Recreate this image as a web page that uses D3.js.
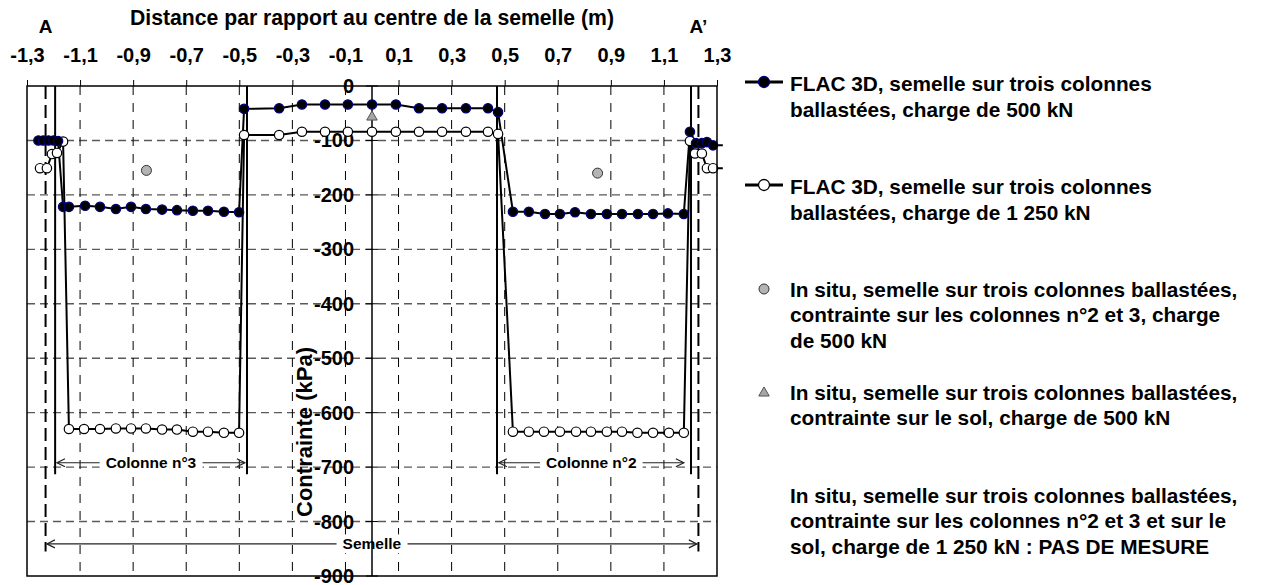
<!DOCTYPE html>
<html><head><meta charset="utf-8">
<script src="https://cdn.jsdelivr.net/npm/d3@7"></script>
<style>
body{margin:0;background:#fff;}
svg text{font-family:Arial,"Liberation Sans",sans-serif;font-weight:bold;fill:#000;}
</style></head><body>
<svg id="chart" width="1274" height="585"></svg>
<script>
// ---------------- data ----------------
const xTickValues = [-1.3,-1.1,-0.9,-0.7,-0.5,-0.3,-0.1,0.1,0.3,0.5,0.7,0.9,1.1,1.3];
const yTickValues = [0,-100,-200,-300,-400,-500,-600,-700,-800,-900];

// FLAC 3D, charge 500 kN
const flac500X = [-1.257,-1.239,-1.219,-1.200,-1.183,
  -1.164,-1.142,-1.081,-1.025,-0.965,-0.908,-0.852,-0.791,-0.735,-0.675,-0.618,-0.558,-0.501,
  -0.482,-0.350,-0.264,-0.177,-0.091,0,0.090,0.177,0.264,0.354,0.437,0.475,
  0.531,0.591,0.652,0.708,0.765,0.825,0.885,0.942,1.002,1.059,1.115,1.175,
  1.198,1.221,1.243,1.262,1.285,1.322];
const flac500Y = [-100,-100,-100,-100,-101,
  -222,-222,-220,-222,-226,-222,-226,-227,-228,-229,-229,-231,-232,
  -42,-41,-34,-34,-34,-34,-34,-41,-41,-41,-41,-48,
  -231,-231,-235,-235,-232,-235,-235,-235,-235,-235,-234,-235,
  -84,-105,-105,-103,-109,-109];

// FLAC 3D, charge 1 250 kN
const flac1250X = [-1.251,-1.225,-1.206,-1.187,-1.164,
  -1.142,-1.085,-1.025,-0.965,-0.908,-0.852,-0.791,-0.735,-0.675,-0.618,-0.558,-0.501,
  -0.482,-0.350,-0.264,-0.177,-0.091,0,0.090,0.177,0.264,0.354,0.437,0.475,
  0.531,0.591,0.648,0.708,0.769,0.825,0.885,0.942,1.000,1.059,1.119,1.175,
  1.198,1.217,1.243,1.262,1.285,1.322];
const flac1250Y = [-151,-151,-125,-123,-102,
  -630,-630,-630,-629,-629,-629,-631,-631,-635,-635,-637,-637,
  -90,-90,-84,-84,-84,-84,-84,-84,-84,-84,-84,-88,
  -635,-635,-635,-635,-635,-635,-635,-635,-637,-637,-637,-637,
  -101,-124,-124,-151,-151,-151];

// In situ measurements, 500 kN
const insituColX = [-0.85, 0.85];
const insituColY = [-155, -160];
const insituSolX = [0];
const insituSolY = [-57];

// geometry annotations (data coordinates)
const columnEdges = [-1.194, -0.471, 0.471, 1.202];
const columnEdgeBottom = -713;
const semelleEdges = [-1.23, 1.23];
const semelleEdgeBottom = -855;
const dimNames = ["Colonne n°3", "Colonne n°2", "Semelle"];
const dimFrom = [-1.187, 0.478, -1.225];
const dimTo = [-0.479, 1.175, 1.224];
const dimLevel = [-692, -692, -841];
const sectionNames = ["A", "A’"];
const sectionX = [-1.23, 1.23];

const xTitle = "Distance par rapport au centre de la semelle (m)";
const yTitle = "Contrainte (kPa)";

const legendLabels = [
  ["FLAC 3D, semelle sur trois colonnes", "ballastées, charge de 500 kN"],
  ["FLAC 3D, semelle sur trois colonnes", "ballastées, charge de 1 250 kN"],
  ["In situ, semelle sur trois colonnes ballastées,", "contrainte sur les colonnes n°2 et 3, charge", "de 500 kN"],
  ["In situ, semelle sur trois colonnes ballastées,", "contrainte sur le sol, charge de 500 kN"],
  ["In situ, semelle sur trois colonnes ballastées,", "contrainte sur les colonnes n°2 et 3 et sur le", "sol, charge de 1 250 kN : PAS DE MESURE"]
];
const legendKinds = ["flac500", "flac1250", "col", "sol", "none"];

// ---------------- drawing ----------------
const svg = d3.select("#chart");
const L = 27, R = 717, T = 86, B = 576;
const x = d3.scaleLinear().domain([-1.3, 1.3]).range([L, R]);
const y = d3.scaleLinear().domain([0, -900]).range([T, B]);
const fmtComma = d => d3.format(".1f")(d).replace("−", "-").replace(".", ",");

// horizontal gridlines
svg.append("g").selectAll("line").data(yTickValues.filter(v => v < 0 && v > -900)).join("line")
  .attr("x1", L).attr("x2", R).attr("y1", d => y(d)).attr("y2", d => y(d))
  .attr("stroke", "#5a5a5a").attr("stroke-width", 1.4).attr("stroke-dasharray", "8,5");
// vertical gridlines
svg.append("g").selectAll("line").data(xTickValues.filter(v => v > -1.3 && v < 1.3)).join("line")
  .attr("x1", d => x(d)).attr("x2", d => x(d)).attr("y1", T).attr("y2", B)
  .attr("stroke", "#000").attr("stroke-width", 1).attr("stroke-dasharray", "9,8");

// top axis
const xAxis = d3.axisTop(x).tickValues(xTickValues).tickSize(6).tickPadding(18).tickFormat(fmtComma);
const gx = svg.append("g").attr("transform", `translate(0,${T})`).call(xAxis);
gx.select(".domain").remove();
gx.selectAll(".tick line").attr("stroke", "#000");
gx.selectAll(".tick text").style("font-size", "20px").attr("fill", "#000");

// column edges (solid)
svg.append("g").selectAll("line").data(columnEdges).join("line")
  .attr("x1", d => x(d)).attr("x2", d => x(d)).attr("y1", y(0)).attr("y2", y(columnEdgeBottom))
  .attr("stroke", "#000").attr("stroke-width", 2);
// semelle edges (long dash)
svg.append("g").selectAll("line").data(semelleEdges).join("line")
  .attr("x1", d => x(d)).attr("x2", d => x(d)).attr("y1", y(0)).attr("y2", y(semelleEdgeBottom))
  .attr("stroke", "#000").attr("stroke-width", 2).attr("stroke-dasharray", "13,6");

// dimension arrows
const dims = dimNames.map((n, i) => ({n, a: dimFrom[i], b: dimTo[i], v: dimLevel[i]}));
const dg = svg.append("g");
dims.forEach(d => {
  const yy = y(d.v), xa = x(d.a), xb = x(d.b);
  dg.append("line").attr("x1", xa).attr("x2", xb).attr("y1", yy).attr("y2", yy)
    .attr("stroke", "#222").attr("stroke-width", 1.2);
  dg.append("path").attr("d", `M${xa+8},${yy-4}L${xa},${yy}L${xa+8},${yy+4}`)
    .attr("fill", "none").attr("stroke", "#222").attr("stroke-width", 1.2);
  dg.append("path").attr("d", `M${xb-8},${yy-4}L${xb},${yy}L${xb-8},${yy+4}`)
    .attr("fill", "none").attr("stroke", "#222").attr("stroke-width", 1.2);
  const cx = (xa + xb) / 2;
  const t = dg.append("text").attr("x", cx).attr("y", yy).attr("text-anchor", "middle")
    .attr("dominant-baseline", "central").style("font-size", "15.5px").text(d.n);
  const bb = t.node().getBBox();
  dg.insert("rect", () => t.node()).attr("x", bb.x - 6).attr("y", bb.y - 1)
    .attr("width", bb.width + 12).attr("height", bb.height + 2).attr("fill", "#fff");
});

// y axis at x = 0
svg.append("line").attr("x1", x(0)).attr("x2", x(0)).attr("y1", T).attr("y2", B)
  .attr("stroke", "#000").attr("stroke-width", 1.5);
const yg = svg.append("g");
yg.selectAll("line").data(yTickValues).join("line")
  .attr("x1", x(0) - 6).attr("x2", x(0) + 6).attr("y1", d => y(d)).attr("y2", d => y(d))
  .attr("stroke", "#000").attr("stroke-width", 1);
yg.selectAll("text").data(yTickValues).join("text")
  .attr("x", x(0) - 18).attr("y", d => y(d)).attr("text-anchor", "end")
  .attr("dominant-baseline", "central").style("font-size", "20px").text(d => String(d));

// series
const line = d3.line().x(d => x(d[0])).y(d => y(d[1]));
const s500 = flac500X.map((v, i) => [v, flac500Y[i]]);
const s1250 = flac1250X.map((v, i) => [v, flac1250Y[i]]);
svg.append("path").datum(s1250).attr("d", line).attr("fill", "none").attr("stroke", "#000").attr("stroke-width", 2);
svg.append("path").datum(s500).attr("d", line).attr("fill", "none").attr("stroke", "#000").attr("stroke-width", 2);
svg.append("g").selectAll("circle").data(s1250.filter(d => d[0] <= 1.3)).join("circle")
  .attr("cx", d => x(d[0])).attr("cy", d => y(d[1])).attr("r", 4.7)
  .attr("fill", "#fff").attr("stroke", "#000").attr("stroke-width", 1.2);
svg.append("g").selectAll("circle").data(s500.filter(d => d[0] <= 1.3)).join("circle")
  .attr("cx", d => x(d[0])).attr("cy", d => y(d[1])).attr("r", 4.7)
  .attr("fill", "#000").attr("stroke", "#000080").attr("stroke-width", 1.2);

// in situ
svg.append("g").selectAll("circle").data(insituColX.map((v, i) => [v, insituColY[i]])).join("circle")
  .attr("cx", d => x(d[0])).attr("cy", d => y(d[1])).attr("r", 5)
  .attr("fill", "#b4b4b4").attr("stroke", "#333").attr("stroke-width", 1);
const tri = d3.symbol().type(d3.symbolTriangle).size(48);
svg.append("g").selectAll("path").data(insituSolX.map((v, i) => [v, insituSolY[i]])).join("path")
  .attr("transform", d => `translate(${x(d[0])},${y(d[1])})`).attr("d", tri)
  .attr("fill", "#a6a6a6").attr("stroke", "#555").attr("stroke-width", 1);

// plot border
svg.append("rect").attr("x", L).attr("y", T).attr("width", R - L).attr("height", B - T)
  .attr("fill", "none").attr("stroke", "#000").attr("stroke-width", 1.5);

// titles
svg.append("text").attr("x", (L + R) / 2).attr("y", 25).attr("text-anchor", "middle")
  .style("font-size", "21.2px").text(xTitle);
svg.append("text").attr("transform", `translate(304,432) rotate(-90)`).attr("text-anchor", "middle")
  .attr("dominant-baseline", "central").style("font-size", "22px").text(yTitle);
svg.append("g").selectAll("text").data(sectionNames).join("text")
  .attr("x", (d, i) => x(sectionX[i])).attr("y", 33).attr("text-anchor", "middle")
  .style("font-size", "19px").text(d => d);

// legend
const legY = [83, 186, 289, 392, 495];
const lineH = [26, 26, 25.5, 25.5, 25.5];
const lg = svg.append("g");
legendLabels.forEach((lines, i) => {
  const k = legendKinds[i], yy = legY[i];
  if (k === "flac500" || k === "flac1250") {
    lg.append("line").attr("x1", 745).attr("x2", 783).attr("y1", yy - 1).attr("y2", yy - 1)
      .attr("stroke", "#000").attr("stroke-width", 3);
    lg.append("circle").attr("cx", 764).attr("cy", yy - 1).attr("r", 5.5)
      .attr("fill", k === "flac500" ? "#000" : "#fff")
      .attr("stroke", k === "flac500" ? "#000080" : "#000").attr("stroke-width", 1.3);
  } else if (k === "col") {
    lg.append("circle").attr("cx", 764).attr("cy", yy).attr("r", 5)
      .attr("fill", "#b4b4b4").attr("stroke", "#333").attr("stroke-width", 1);
  } else if (k === "sol") {
    lg.append("path").attr("transform", `translate(764,${yy + 1})`).attr("d", tri)
      .attr("fill", "#a6a6a6").attr("stroke", "#555").attr("stroke-width", 1);
  }
  lines.forEach((t, j) => {
    lg.append("text").attr("x", 790).attr("y", yy + j * lineH[i])
      .attr("dominant-baseline", "central").style("font-size", "20.8px").text(t);
  });
});
</script>
</body></html>
